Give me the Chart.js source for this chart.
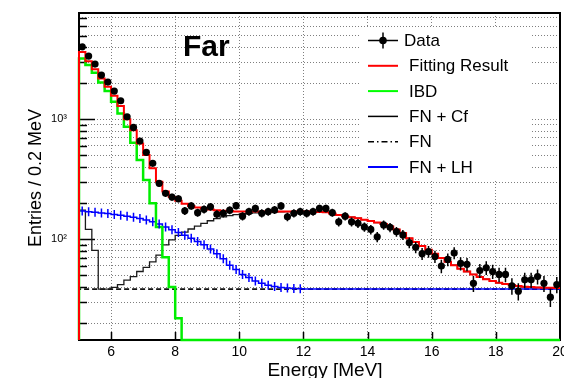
<!DOCTYPE html>
<html>
<head>
<meta charset="utf-8">
<script src="https://cdn.jsdelivr.net/npm/chart.js@4.4.1/dist/chart.umd.min.js"></script>
<style>
  html, body { margin: 0; padding: 0; background: #fff; }
  #wrap { width: 564px; height: 378px; }
</style>
</head>
<body>
<div id="wrap"><canvas id="chart" width="564" height="378"></canvas></div>
<script>
// bin centres, 0.2 MeV wide bins from 5 to 20 MeV
const binCenters = [
  5.1, 5.3, 5.5, 5.7, 5.9, 6.1, 6.3, 6.5, 6.7, 6.9, 7.1, 7.3, 7.5, 7.7, 7.9,
  8.1, 8.3, 8.5, 8.7, 8.9, 9.1, 9.3, 9.5, 9.7, 9.9, 10.1, 10.3, 10.5, 10.7, 10.9,
  11.1, 11.3, 11.5, 11.7, 11.9, 12.1, 12.3, 12.5, 12.7, 12.9, 13.1, 13.3, 13.5, 13.7, 13.9,
  14.1, 14.3, 14.5, 14.7, 14.9, 15.1, 15.3, 15.5, 15.7, 15.9, 16.1, 16.3, 16.5, 16.7, 16.9,
  17.1, 17.3, 17.5, 17.7, 17.9, 18.1, 18.3, 18.5, 18.7, 18.9, 19.1, 19.3, 19.5, 19.7, 19.9
];
const binWidth = 0.2;

const dataCounts = [
  4027, 3369, 2889, 2340, 2046, 1720, 1429, 1051, 857, 659, 531, 430, 293, 242, 225,
  218, 173, 190, 167, 178, 187, 162, 165, 175, 191, 156, 170, 181, 165, 170,
  176, 190, 154, 165, 170, 165, 170, 181, 181, 167, 140, 156, 140, 136, 127,
  121, 105, 132, 126, 116, 109, 94, 86, 76, 79, 72, 60, 68, 77, 63,
  62, 43, 55, 58, 54, 51, 51, 41, 37, 46, 46, 49, 43, 33, 42
];

const fitResult = [
  3650, 3050, 2620, 2190, 1870, 1570, 1290, 1000, 810, 630, 505, 392, 302, 250, 225,
  210, 198, 190, 184, 180, 177, 175, 173.5, 172, 171, 171, 170.5, 170.5, 170.5, 170.5,
  170.5, 171, 171, 171, 171, 171, 170, 169, 168, 164, 160, 156, 153, 150, 146,
  142, 138, 134, 128, 121, 113, 102, 95, 88, 82, 76, 70, 65, 61, 57,
  54, 51, 48.5, 46.5, 45, 43.5, 42.5, 41.5, 40.8, 40.3, 40, 39.8, 39.6, 39.5, 39.4
];

const ibd = [
  3222, 2835, 2445, 2030, 1720, 1402, 1122, 867, 638, 458, 312, 200, 127, 71, 40,
  22, 0, 0, 0, 0, 0, 0, 0, 0, 0, 0, 0, 0, 0, 0,
  0, 0, 0, 0, 0, 0, 0, 0, 0, 0, 0, 0, 0, 0, 0,
  0, 0, 0, 0, 0, 0, 0, 0, 0, 0, 0, 0, 0, 0, 0,
  0, 0, 0, 0, 0, 0, 0, 0, 0, 0, 0, 0, 0, 0, 0
];

const fnCf = [
  175, 121, 81, 38.5, 38.5, 39.8, 42, 45.8, 49, 54, 58.5, 65, 74, 90, 99,
  108, 115, 122, 129, 136, 143, 149, 154, 158, 161, 163, 165, 166.5, 167.5, 168.5,
  169, 169.5, 170, 170.5, 171, 171, 170, 169, 168, 164, 160, 156, 153, 150, 146,
  142, 138, 134, 128, 121, 113, 102, 95, 88, 82, 76, 70, 65, 61, 57,
  54, 51, 48.5, 46.5, 45, 43.5, 42.5, 41.5, 40.8, 40.3, 40, 39.8, 39.6, 39.5, 39.4
];

const fnOnly = [
  38.5, 38.5, 38.5, 38.5, 38.5, 38.5, 38.5, 38.5, 38.5, 38.5, 38.5, 38.5, 38.5, 38.5, 38.5,
  38.5, 38.5, 38.5, 38.5, 38.5, 38.5, 38.5, 38.5, 38.5, 38.5, 38.5, 38.5, 38.5, 38.5, 38.5,
  38.5, 38.5, 38.5, 38.5, 38.5, 38.5, 38.5, 38.5, 38.5, 38.5, 38.5, 38.5, 38.5, 38.5, 38.5,
  38.5, 38.5, 38.5, 38.5, 38.5, 38.5, 38.5, 38.5, 38.5, 38.5, 38.5, 38.5, 38.5, 38.5, 38.5,
  38.5, 38.5, 38.5, 38.5, 38.5, 38.5, 38.5, 38.5, 38.5, 38.5, 38.5, 38.5, 38.5, 38.5, 38.5
];

const fnLh = [
  172, 170, 168, 166, 164, 161, 159, 156, 153, 149, 145, 140, 134, 127, 120,
  114, 108, 102, 96, 90, 83, 76, 69, 61, 56, 51, 48, 45, 43, 41.5,
  40.5, 39.8, 39.3, 39, 38.8, 38.5, 38.5, 38.5, 38.5, 38.5, 38.5, 38.5, 38.5, 38.5, 38.5,
  38.5, 38.5, 38.5, 38.5, 38.5, 38.5, 38.5, 38.5, 38.5, 38.5, 38.5, 38.5, 38.5, 38.5, 38.5,
  38.5, 38.5, 38.5, 38.5, 38.5, 38.5, 38.5, 38.5, 38.5, 38.5, 38.5, 38.5, 38.5, 38.5, 38.5
];
const fnLhErrorsUpTo = 12; // MeV, crosses drawn below this

const xTicks = [6, 8, 10, 12, 14, 16, 18, 20];
const yTicks = [20, 30, 40, 50, 60, 70, 80, 90, 100, 200, 300, 400, 500, 600, 700, 800, 900,
                1000, 2000, 3000, 4000, 5000, 6000, 7000];
const yTickLabels = { 100: '10²', 1000: '10³' };
const legendLabels = ['Data', 'Fitting Result', 'IBD', 'FN + Cf', 'FN', 'FN + LH'];

const yMin = 14.5, yMax = 7700;
const FONT = '"Liberation Sans", Arial, Helvetica, sans-serif';
Chart.defaults.font.family = FONT;

// ROOT style histogram: step line from left edge, empty bins sit on the frame
function histo(values) {
  const pts = [{ x: binCenters[0] - binWidth / 2, y: yMin }];
  values.forEach((v, i) => pts.push({ x: binCenters[i] - binWidth / 2, y: v > 0 ? v : yMin }));
  const last = values.length - 1;
  pts.push({ x: binCenters[last] + binWidth / 2, y: values[last] > 0 ? values[last] : yMin });
  return pts;
}

function histDataset(label, values, color, width, order, dash) {
  return {
    label, data: histo(values), borderColor: color, borderWidth: width,
    borderDash: dash || [], stepped: true, pointRadius: 0, fill: false, order,
    clip: { left: 2, right: 2, top: 2, bottom: 3 }
  };
}

const frameAndTicks = {
  id: 'frameAndTicks',
  beforeDatasetsDraw(chart) {
    const { ctx, chartArea: a, scales } = chart;
    ctx.save();
    ctx.strokeStyle = '#000';
    ctx.lineWidth = 2;
    ctx.strokeRect(a.left, a.top, a.right - a.left, a.bottom - a.top);
    ctx.lineWidth = 1.5;
    ctx.beginPath();
    yTicks.forEach(v => {
      const y = Math.round(scales.y.getPixelForValue(v)) + 0.5;
      const len = yTickLabels[v] ? 16 : 8;
      ctx.moveTo(a.left, y);
      ctx.lineTo(a.left + len, y);
    });
    xTicks.forEach(v => {
      if (v >= 20) return;
      const x = Math.round(scales.x.getPixelForValue(v)) + 0.5;
      ctx.moveTo(x, a.bottom);
      ctx.lineTo(x, a.bottom - 8);
    });
    ctx.stroke();
    ctx.restore();
  },
  afterDatasetsDraw(chart) {
    const { ctx, scales } = chart;
    ctx.save();
    // data: poisson error bars
    ctx.strokeStyle = '#000';
    ctx.lineWidth = 1.5;
    ctx.beginPath();
    dataCounts.forEach((n, i) => {
      const x = scales.x.getPixelForValue(binCenters[i]);
      const e = Math.sqrt(n);
      ctx.moveTo(x, scales.y.getPixelForValue(n + e));
      ctx.lineTo(x, scales.y.getPixelForValue(n - e));
    });
    ctx.stroke();
    // FN + LH error crosses
    ctx.strokeStyle = '#0000ff';
    ctx.beginPath();
    fnLh.forEach((v, i) => {
      if (binCenters[i] > fnLhErrorsUpTo) return;
      const x = scales.x.getPixelForValue(binCenters[i]);
      const y = scales.y.getPixelForValue(v);
      ctx.moveTo(x, y - 4.5);
      ctx.lineTo(x, y + 4.5);
    });
    ctx.stroke();
    ctx.restore();
  },
  afterDraw(chart) {
    const ctx = chart.ctx;
    ctx.save();
    // legend
    ctx.fillStyle = '#fff';
    ctx.fillRect(360, 28, 171, 153);
    const styles = [
      { color: '#000', width: 1.5 },
      { color: '#ff0000', width: 2 },
      { color: '#00ff00', width: 2 },
      { color: '#000', width: 1.5 },
      { color: '#000', width: 1.5, dash: [6, 3, 1.5, 3] },
      { color: '#0000ff', width: 2 }
    ];
    ctx.font = '17px ' + FONT;
    ctx.textBaseline = 'middle';
    legendLabels.forEach((label, i) => {
      const y = 40.5 + i * 25.3;
      const s = styles[i];
      ctx.strokeStyle = s.color;
      ctx.lineWidth = s.width;
      ctx.setLineDash(s.dash || []);
      ctx.beginPath();
      ctx.moveTo(368, y);
      ctx.lineTo(398, y);
      ctx.stroke();
      ctx.setLineDash([]);
      if (i === 0) {
        ctx.beginPath();
        ctx.moveTo(383, y - 8);
        ctx.lineTo(383, y + 8);
        ctx.stroke();
        ctx.fillStyle = '#000';
        ctx.beginPath();
        ctx.arc(383, y, 3.8, 0, Math.PI * 2);
        ctx.fill();
      }
      ctx.fillStyle = '#000';
      ctx.fillText(label, i === 0 ? 404 : 409, y + 1);
    });
    // "Far" label
    ctx.font = 'bold 30px ' + FONT;
    ctx.textBaseline = 'alphabetic';
    ctx.fillText('Far', 183, 56);
    // axis titles
    ctx.font = '19px ' + FONT;
    ctx.textAlign = 'center';
    ctx.fillText('Energy [MeV]', 325, 376);
    ctx.translate(36, 178);
    ctx.rotate(-Math.PI / 2);
    ctx.font = '18px ' + FONT;
    ctx.textBaseline = 'middle';
    ctx.fillText('Entries / 0.2 MeV', 0, 0);
    ctx.restore();
  }
};

const gridColor = 'rgba(0,0,0,0.5)';

new Chart(document.getElementById('chart'), {
  type: 'line',
  data: {
    datasets: [
      {
        label: legendLabels[0],
        data: dataCounts.map((n, i) => ({ x: binCenters[i], y: n })),
        showLine: false, pointRadius: 3.6, pointBackgroundColor: '#000',
        pointBorderWidth: 0, borderColor: '#000', order: 0
      },
      histDataset(legendLabels[1], fitResult, '#ff0000', 2, 1),
      histDataset(legendLabels[2], ibd, '#00ee00', 2.5, 2),
      histDataset(legendLabels[5], fnLh, '#0000ff', 1.5, 3),
      histDataset(legendLabels[3], fnCf, '#1a1a1a', 1.3, 4),
      histDataset(legendLabels[4], fnOnly, '#111', 1.6, 5, [5, 3])
    ]
  },
  options: {
    responsive: false,
    animation: false,
    devicePixelRatio: 1,
    layout: { padding: { top: 13, right: 2, left: 0, bottom: 0 } },
    plugins: { legend: { display: false }, tooltip: { enabled: false } },
    scales: {
      x: {
        type: 'linear', min: 5, max: 20,
        afterBuildTicks: s => { s.ticks = xTicks.map(v => ({ value: v })); },
        afterFit: s => { s.height = 38; s.paddingLeft = 0; s.paddingRight = 0; },
        grid: { color: gridColor, lineWidth: 1, drawTicks: false },
        border: { display: false, dash: [1, 2] },
        ticks: { color: '#000', font: { size: 14 }, padding: 4, autoSkip: false, maxRotation: 0 }
      },
      y: {
        type: 'logarithmic', min: yMin, max: yMax,
        afterBuildTicks: s => { s.ticks = yTicks.map(v => ({ value: v })); },
        afterFit: s => { s.width = 79; s.paddingTop = 0; s.paddingBottom = 0; },
        grid: { color: gridColor, lineWidth: 1, drawTicks: false },
        border: { display: false, dash: [1, 2] },
        ticks: {
          color: '#000', font: { size: 11 }, padding: 12, autoSkip: false,
          callback: v => yTickLabels[v] || ''
        }
      }
    }
  },
  plugins: [frameAndTicks]
});
</script>
</body>
</html>
